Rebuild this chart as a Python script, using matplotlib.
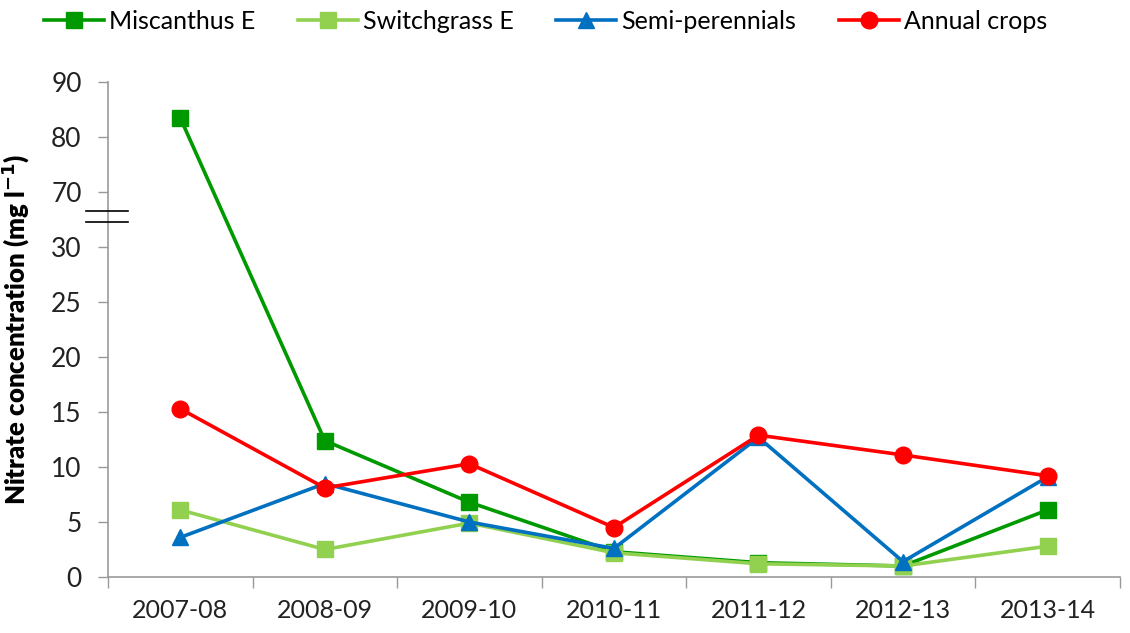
import numpy as np
import matplotlib.pyplot as plt

# Data
seasons = ['2007-08', '2008-09', '2009-10', '2010-11', '2011-12', '2012-13', '2013-14']
miscanthus = [83.5, 12.4, 6.8, 2.3, 1.3, 1.0, 6.1]
switchgrass = [6.1, 2.5, 4.9, 2.2, 1.2, 1.0, 2.8]
semi_perennials = [3.6, 8.5, 5.0, 2.6, 12.7, 1.4, 9.1]
annual_crops = [15.3, 8.1, 10.3, 4.5, 12.9, 11.1, 9.2]
y_ticks = [0, 5, 10, 15, 20, 25, 30, 70, 80, 90]


# broken axis: 0-30 linear, 30-70 squeezed into one tick step, 70-90 at half scale
def forward(v):
    v = np.asarray(v, dtype=float)
    return np.where(v <= 30, v,
                    np.where(v <= 70, 30 + (v - 30) / 8, 35 + (v - 70) / 2))


def inverse(t):
    t = np.asarray(t, dtype=float)
    return np.where(t <= 30, t,
                    np.where(t <= 35, 30 + (t - 30) * 8, 70 + (t - 35) * 2))


plt.rcParams['font.family'] = ['Lato', 'DejaVu Sans']

fig = plt.figure(figsize=(11.3, 6.33), dpi=100)
ax = fig.add_axes([0.0956, 0.0885, 0.8954, 0.7815])

x = np.arange(len(seasons))
styles = [
    (miscanthus, 'Miscanthus E', '#009A00', 's'),
    (switchgrass, 'Switchgrass E', '#92D050', 's'),
    (semi_perennials, 'Semi-perennials', '#0070C0', '^'),
    (annual_crops, 'Annual crops', '#FF0000', 'o'),
]
for vals, name, col, mk in styles:
    ax.plot(x, vals, color=col, marker=mk, markersize=12, linewidth=2.6,
            label=name, clip_on=False)

ax.set_yscale('function', functions=(forward, inverse))
ax.set_ylim(0, 90)
ax.set_yticks(y_ticks)
ax.set_yticklabels([str(t) for t in y_ticks])
ax.set_xlim(-0.5, len(seasons) - 0.5)
ax.set_xticks(x)
ax.set_xticklabels(seasons)
ax.set_xticks(np.arange(len(seasons) + 1) - 0.5, minor=True)
ax.tick_params(axis='x', which='major', length=0, pad=16, labelsize=18, colors='#222222')
ax.tick_params(axis='x', which='minor', length=8, color='#999999', width=1)
ax.tick_params(axis='y', length=7, color='#999999', width=1, labelsize=19,
               labelcolor='#222222', pad=12)

for s in ['top', 'right']:
    ax.spines[s].set_visible(False)
for s in ['left', 'bottom']:
    ax.spines[s].set_color('#999999')
    ax.spines[s].set_linewidth(1.2)

ax.set_ylabel('Nitrate concentration (mg l$^{\\mathbf{-1}}$)', fontsize=18.5,
              fontweight='heavy')
ax.yaxis.set_label_coords(-0.075, 0.5)

# break marker on the y axis
for yy in [211, 222]:
    fig.add_artist(plt.Line2D([86 / 1130, 128 / 1130], [1 - yy / 633, 1 - yy / 633],
                              color='black', linewidth=1.2))

fig.legend(loc='upper center', ncol=4, bbox_to_anchor=(0.483, 1.02), frameon=False,
           fontsize=18, handlelength=2.4, columnspacing=1.7, handletextpad=0.2)

fig.savefig('out.png', dpi=100)
